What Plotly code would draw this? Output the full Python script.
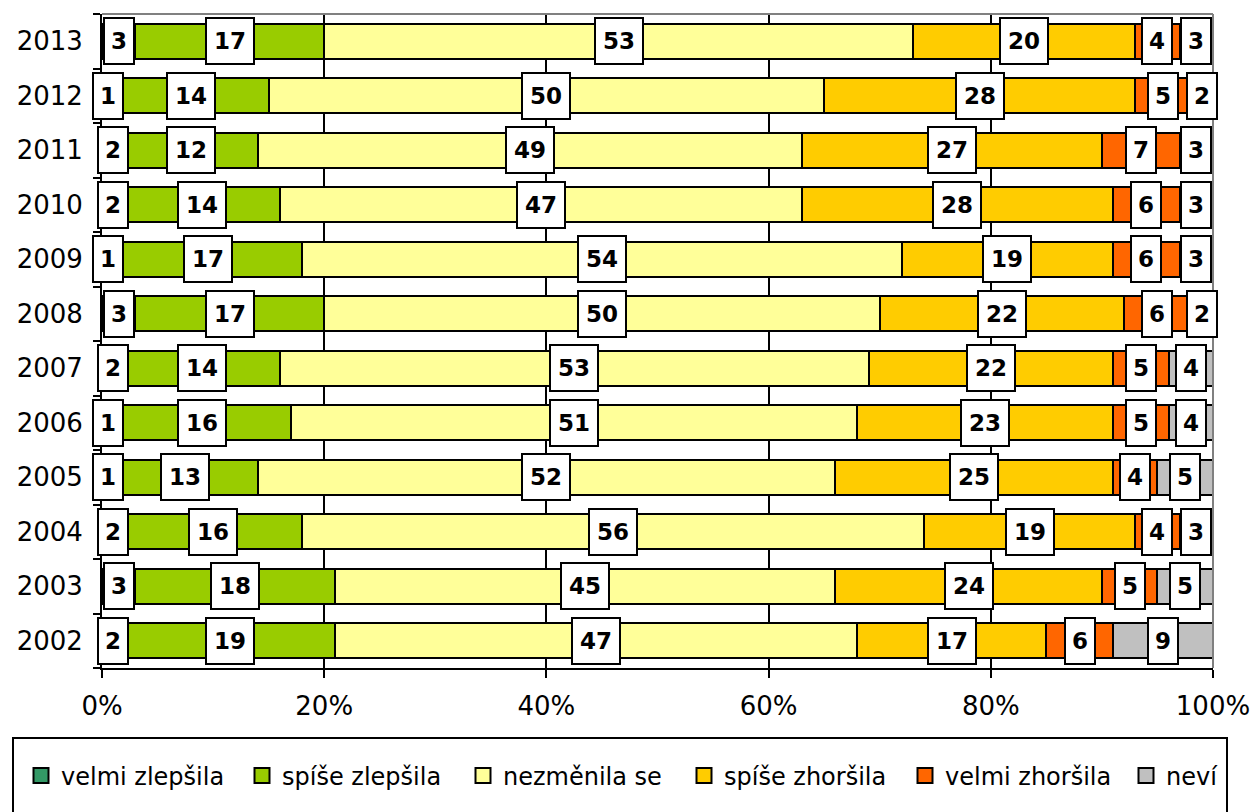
import plotly.graph_objects as go

years = ["2002", "2003", "2004", "2005", "2006", "2007",
         "2008", "2009", "2010", "2011", "2012", "2013"]

series_names = ["velmi zlepšila", "spíše zlepšila", "nezměnila se",
                "spíše zhoršila", "velmi zhoršila", "neví"]

velmi_zlepsila = [2, 3, 2, 1, 1, 2, 3, 1, 2, 2, 1, 3]
spise_zlepsila = [19, 18, 16, 13, 16, 14, 17, 17, 14, 12, 14, 17]
nezmenila_se = [47, 45, 56, 52, 51, 53, 50, 54, 47, 49, 50, 53]
spise_zhorsila = [17, 24, 19, 25, 23, 22, 22, 19, 28, 27, 28, 20]
velmi_zhorsila = [6, 5, 4, 4, 5, 5, 6, 6, 6, 7, 5, 4]
nevi = [9, 5, 3, 5, 4, 4, 2, 3, 3, 3, 2, 3]

x_ticks = [0, 20, 40, 60, 80, 100]
x_tick_labels = ["0%", "20%", "40%", "60%", "80%", "100%"]

series_values = [velmi_zlepsila, spise_zlepsila, nezmenila_se,
                 spise_zhorsila, velmi_zhorsila, nevi]
colors = ["#339966", "#99CC00", "#FFFF99", "#FFCC00", "#FF6600", "#C0C0C0"]

FONT = "Verdana, DejaVu Sans, sans-serif"

# figure pixel geometry
W, H = 1254, 812
ML, MR, MT, MB = 102, 41, 14, 144
PW = W - ML - MR
PH = H - MT - MB


def px_x(p):
    return (p - ML) / PW


def px_y(p):
    return (H - MB - p) / PH


fig = go.Figure()

for name, vals, col in zip(series_names, series_values, colors):
    fig.add_trace(go.Bar(
        y=years, x=vals, name=name, orientation="h",
        marker=dict(color=col, line=dict(color="black", width=2)),
        showlegend=False,
    ))

# legend entries (square markers)
for i, (name, col) in enumerate(zip(series_names, colors)):
    kw = {}
    if i < len(series_names) - 1:
        kw["legendwidth"] = 176
    fig.add_trace(go.Scatter(
        x=[None], y=[None], mode="markers", name=name,
        marker=dict(symbol="square", size=15, color=col,
                    line=dict(color="black", width=2)),
        hoverinfo="skip", **kw,
    ))

# value labels (y given as category index)
annotations = []
for yi in range(len(years)):
    cum = 0
    for vals in series_values:
        v = vals[yi]
        annotations.append(dict(
            x=cum + v / 2, y=yi, xref="x", yref="y",
            text="<b>%d</b>" % v, showarrow=False,
            font=dict(family=FONT, size=23, color="black"),
            bgcolor="white", bordercolor="black", borderwidth=2, borderpad=1,
            width=26 if v < 10 else 44, height=42,
            xanchor="center", yanchor="middle",
        ))
        cum += v

shapes = [
    # gray top and right frame
    dict(type="line", xref="paper", yref="paper", x0=0, x1=1, y0=1, y1=1,
         line=dict(color="#808080", width=2), layer="above"),
    dict(type="line", xref="paper", yref="paper", x0=1, x1=1, y0=0, y1=1,
         line=dict(color="#808080", width=2), layer="above"),
    # legend frame
    dict(type="rect", xref="paper", yref="paper",
         x0=px_x(13), x1=px_x(1227), y0=px_y(738), y1=px_y(840),
         line=dict(color="black", width=2), fillcolor="rgba(0,0,0,0)"),
]

fig.update_layout(
    width=W, height=H,
    margin=dict(l=ML, r=MR, t=MT, b=MB, autoexpand=False),
    paper_bgcolor="white", plot_bgcolor="white",
    barmode="stack", bargap=0.36,
    font=dict(family=FONT, color="black"),
    showlegend=True,
    legend=dict(orientation="h", x=px_x(21), xanchor="left",
                y=px_y(776), yanchor="middle", traceorder="normal",
                font=dict(family=FONT, size=24, color="black"),
                bgcolor="rgba(0,0,0,0)", borderwidth=0,
                itemclick=False, itemdoubleclick=False),
    annotations=annotations,
    shapes=shapes,
    xaxis=dict(range=[0, 100], automargin=False,
               tickmode="array", tickvals=x_ticks, ticktext=x_tick_labels,
               showgrid=True, gridcolor="black", gridwidth=1.5,
               zeroline=False, showline=True, linecolor="black", linewidth=2,
               ticks="outside", ticklen=8, tickwidth=2, tickcolor="black",
               tickfont=dict(family=FONT, size=26, color="black"),
               ticklabelstandoff=6, fixedrange=True),
    yaxis=dict(type="category", range=[-0.5, len(years) - 0.5],
               autorange=False, automargin=False,
               showline=True, linecolor="black", linewidth=2,
               ticks="outside", ticklen=7, tickwidth=2, tickcolor="black",
               tickson="boundaries", showgrid=False, zeroline=False,
               tickfont=dict(family=FONT, size=26, color="black"),
               ticklabelstandoff=12, fixedrange=True),
)

fig.write_html("out.html", config={"displayModeBar": False},
               post_script="document.body.style.margin='0';")
